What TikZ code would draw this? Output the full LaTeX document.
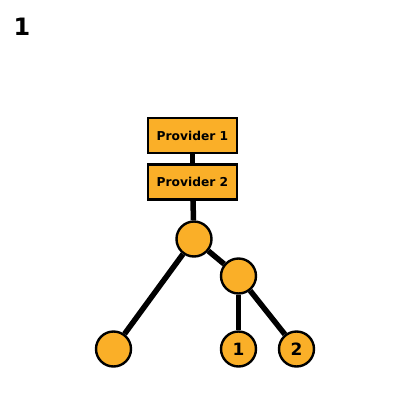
\documentclass[tikz,border=0pt]{standalone}
\usepackage{fontspec}
\setmainfont{DejaVu Sans}
\definecolor{provorange}{RGB}{250,175,40}
\begin{document}
\begin{tikzpicture}[x=1bp,y=-1bp]
	\tikzset{provbox/.style={draw=black, line width=2.4bp, fill=provorange, minimum width=89bp, minimum height=35bp, inner sep=0pt, font=\fontsize{12.3}{14}\selectfont\bfseries}}
	\tikzset{leaf/.style={circle, draw=black, line width=2.4bp, fill=provorange, minimum size=35bp, inner sep=0pt, font=\fontsize{17}{19}\selectfont\bfseries}}
	\tikzset{link/.style={line width=5.5bp, black}}
	\useasboundingbox (0,0) rectangle (400,400);

	% Title
	\node (title) at (22,26.5) {\fontsize{24}{26}\selectfont\bfseries 1};

	% Providers
	\node[provbox] (prov1) at (192.5,135.5) {Provider 1};
	\node[provbox] (prov2) at (192.5,182) {Provider 2};

	% Tree
	\node[leaf] (root) at (194,239) {};
	\node[leaf] (mid) at (238.5,276) {};
	\node[leaf] (left) at (113.5,349) {};
	\node[leaf] (one) at (238.5,349) {1};
	\node[leaf] (two) at (296.5,349) {2};

	\draw[link] (prov1) -- (prov2);
	\draw[link] (prov2) -- (root);
	\draw[link] (root) -- (left);
	\draw[link] (root) -- (mid);
	\draw[link] (mid) -- (one);
	\draw[link] (mid) -- (two);
\end{tikzpicture}
\end{document}
